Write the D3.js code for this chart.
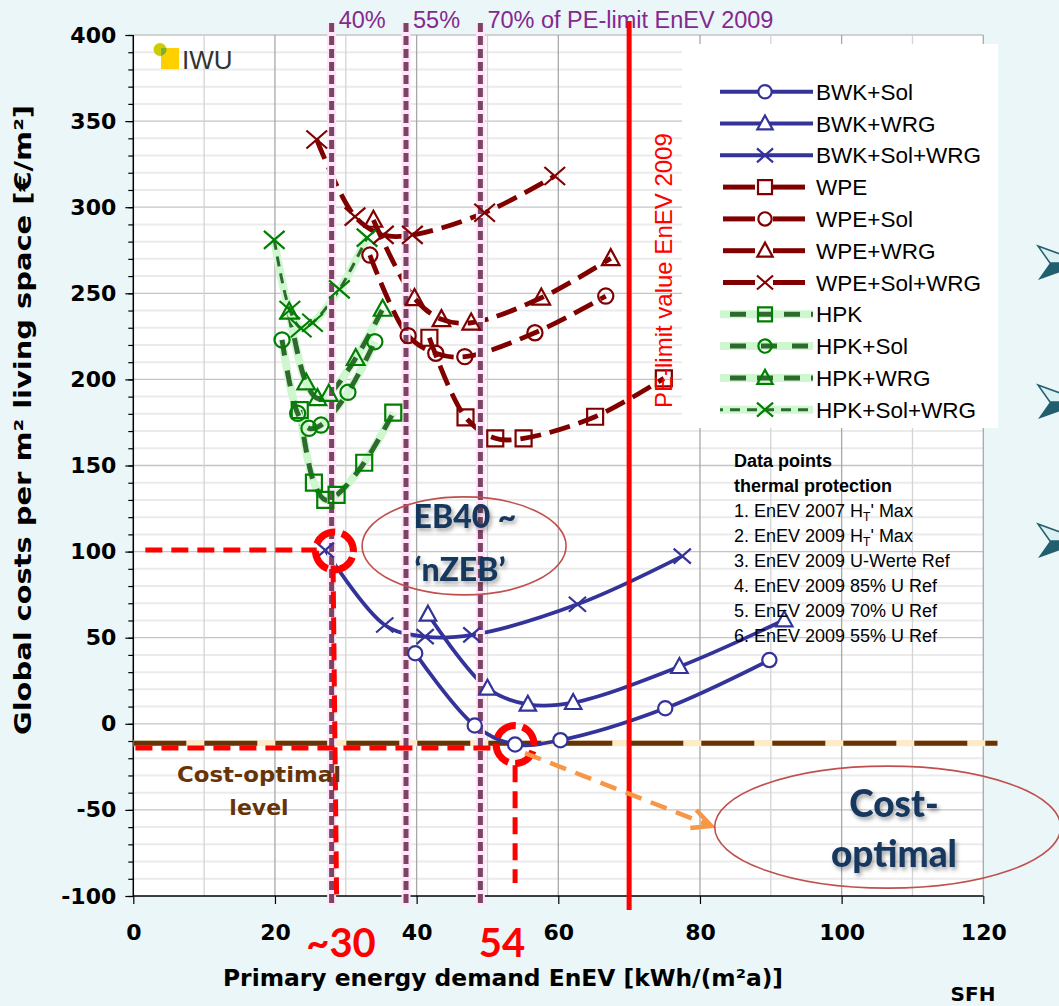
<!DOCTYPE html>
<html><head><meta charset="utf-8">
<script src="https://cdn.jsdelivr.net/npm/d3@7/dist/d3.min.js"></script>
<style>
html,body{margin:0;padding:0;background:#EAF6F8;}
svg{display:block}
</style></head><body>
<svg id="c" width="1059" height="1006"></svg>
<script>
// ---------------- DATA ----------------
const xTicks = [0, 20, 40, 60, 80, 100, 120];
const yTicks = [-100, -50, 0, 50, 100, 150, 200, 250, 300, 350, 400];

const seriesNames = ["BWK+Sol", "BWK+WRG", "BWK+Sol+WRG", "WPE", "WPE+Sol", "WPE+WRG", "WPE+Sol+WRG",
                     "HPK", "HPK+Sol", "HPK+WRG", "HPK+Sol+WRG"];

const BWK_SOL_X = [39.8, 48.2, 53.9, 60.3, 75.1, 89.8];
const BWK_SOL_Y = [41, -1, -12, -9.5, 9, 37];
const BWK_WRG_X = [41.6, 50.0, 55.7, 62.1, 77.1, 91.9];
const BWK_WRG_Y = [63.6, 20.6, 11.3, 12.3, 33.2, 60.3];
const BWK_SOL_WRG_X = [27.1, 35.5, 41.2, 47.8, 62.7, 77.5];
const BWK_SOL_WRG_Y = [100.9, 57.4, 50.6, 51.6, 69.4, 97.4];

const WPE_X = [41.8, 46.9, 51.1, 55.1, 65.2, 74.9];
const WPE_Y = [224.2, 178, 165.8, 165.8, 178.3, 200.6];
const WPE_SOL_X = [33.4, 38.8, 42.7, 46.8, 56.7, 66.7];
const WPE_SOL_Y = [272.2, 225.4, 215.2, 213.2, 227.1, 248.4];
const WPE_WRG_X = [33.9, 39.7, 43.5, 47.7, 57.6, 67.4];
const WPE_WRG_Y = [292.6, 247.1, 234.9, 232.9, 247.4, 270.3];
const WPE_SOL_WRG_X = [25.9, 31.3, 35.3, 39.4, 49.6, 59.5];
const WPE_SOL_WRG_Y = [339.3, 294.5, 283.9, 283.9, 296.8, 318.1];

const HPK_X = [23.5, 25.5, 27.1, 28.7, 32.6, 36.7];
const HPK_Y = [182.2, 140, 130, 132.9, 151.6, 180.7];
const HPK_SOL_X = [21.0, 23.2, 24.8, 26.5, 30.3, 34.1];
const HPK_SOL_Y = [222.9, 180.3, 171.6, 173.5, 192.5, 221.9];
const HPK_WRG_X = [22.0, 24.4, 26.0, 27.6, 31.4, 35.2];
const HPK_WRG_Y = [239.3, 198.1, 189, 191.5, 212.3, 240.9];
const HPK_SOL_WRG_X = [19.9, 22.1, 23.7, 25.3, 29.1, 33.0];
const HPK_SOL_WRG_Y = [281, 240.3, 229.7, 232.9, 252.3, 282.3];

const COST_OPT_X = [0, 122];
const COST_OPT_Y = [-11.3, -11.3];

const PE_LIMIT = 70;
const PE_SHARES = [0.4, 0.55, 0.7];
const PE_SHARE_LABELS = ["40%", "55%", "70% of PE-limit EnEV 2009"];

// annotation anchors (data coordinates)
const MARK_POINTS_X = [28.0, 53.9];
const MARK_POINTS_Y = [101, -12];
const MARK_LABELS = ["~30", "54"];

const NOTES_TITLE = ["Data points", "thermal protection"];
const NOTES = [
  ["1. EnEV 2007 H", "T", "' Max"],
  ["2. EnEV 2009 H", "T", "' Max"],
  ["3. EnEV 2009 U-Werte Ref"],
  ["4. EnEV 2009 85% U Ref"],
  ["5. EnEV 2009 70% U Ref"],
  ["6. EnEV 2009 55% U Ref"]
];

// ---------------- SETUP ----------------
const svg = d3.select("#c");
const W = 1059, H = 1006;
const x = d3.scaleLinear().domain([0, 120]).range([133.3, 983.3]);
const y = d3.scaleLinear().domain([-100, 400]).range([896, 35]);

const defs = svg.append("defs");
const sh = defs.append("filter").attr("id", "shadow").attr("x", "-20%").attr("y", "-20%").attr("width", "140%").attr("height", "160%");
sh.append("feDropShadow").attr("dx", 2).attr("dy", 3).attr("stdDeviation", 2).attr("flood-color", "#000").attr("flood-opacity", 0.35);

svg.append("rect").attr("width", W).attr("height", H).attr("fill", "#EAF6F8");

// plot area
svg.append("rect").attr("x", x(0)).attr("y", y(400)).attr("width", x(120) - x(0)).attr("height", y(-100) - y(400)).attr("fill", "#fff");

const VERD = "'DejaVu Sans', Verdana, sans-serif";
const ARIAL = "'Liberation Sans', Arial, sans-serif";
const CAL = "Lato, 'Open Sans', sans-serif";

// grid
const grid = svg.append("g");
const yMinor = d3.range(-100, 401, 10);
grid.selectAll(".hm").data(yMinor.filter(v => v % 50 !== 0)).join("line")
  .attr("x1", x(0)).attr("x2", x(120)).attr("y1", d => y(d)).attr("y2", d => y(d))
  .attr("stroke", "#EBEBEB").attr("stroke-width", 2);
grid.selectAll(".hM").data(yTicks.filter(v => v !== -100)).join("line")
  .attr("x1", x(0)).attr("x2", x(120)).attr("y1", d => y(d)).attr("y2", d => y(d))
  .attr("stroke", "#C4C4C4").attr("stroke-width", 1.3);
grid.selectAll(".vm").data(d3.range(10, 121, 10)).join("line")
  .attr("x1", d => x(d)).attr("x2", d => x(d)).attr("y1", y(400)).attr("y2", y(-100))
  .attr("stroke", d => d % 20 === 0 ? "#A8A8A8" : "#D4D4D4").attr("stroke-width", 1.3);

// axes
const yAxisMinor = d3.axisLeft(y).tickValues(yMinor).tickSize(5).tickFormat("");
const gy1 = svg.append("g").attr("transform", `translate(${x(0)},0)`).call(yAxisMinor);
gy1.select(".domain").remove();
gy1.selectAll("line").attr("stroke", "#000").attr("stroke-width", 1.2);
const yAxis = d3.axisLeft(y).tickValues(yTicks).tickSize(8).tickPadding(9).tickFormat(d => String(d));
const gy = svg.append("g").attr("transform", `translate(${x(0)},0)`).call(yAxis);
gy.select(".domain").attr("stroke", "#000").attr("stroke-width", 1.5).attr("d", `M0,${y(400)}V${y(-100)}`);
gy.selectAll("line").attr("stroke", "#000").attr("stroke-width", 1.2);
gy.selectAll("text").attr("font-family", VERD).attr("font-weight", "bold").attr("font-size", 22).attr("fill", "#000");

const xAxis = d3.axisBottom(x).tickValues(xTicks).tickSize(8).tickPadding(20).tickFormat(d => String(d));
const gx = svg.append("g").attr("transform", `translate(0,${y(-100)})`).call(xAxis);
gx.select(".domain").attr("stroke", "#000").attr("stroke-width", 1.5).attr("d", `M${x(0)},0H${x(120)}`);
gx.selectAll("line").attr("stroke", "#000").attr("stroke-width", 1.2);
gx.selectAll("text").attr("font-family", VERD).attr("font-weight", "bold").attr("font-size", 22).attr("fill", "#000");

// axis titles
svg.append("text").attr("x", 503).attr("y", 986).attr("text-anchor", "middle")
  .attr("font-family", VERD).attr("font-weight", "bold").attr("font-size", 23)
  .attr("textLength", 560).attr("lengthAdjust", "spacingAndGlyphs")
  .text("Primary energy demand EnEV [kWh/(m²a)]");
svg.append("text").attr("transform", `translate(31,420) rotate(-90)`).attr("text-anchor", "middle")
  .attr("font-family", VERD).attr("font-weight", "bold").attr("font-size", 23)
  .attr("textLength", 630).attr("lengthAdjust", "spacingAndGlyphs")
  .text("Global costs per m² living space [€/m²]");
svg.append("text").attr("x", 973).attr("y", 1001).attr("text-anchor", "middle")
  .attr("font-family", VERD).attr("font-weight", "bold").attr("font-size", 20).text("SFH");

// IWU logo
const logo = svg.append("g");
logo.append("rect").attr("x", 161).attr("y", 48).attr("width", 18).attr("height", 21).attr("fill", "#FFD000");
logo.append("circle").attr("cx", 160).attr("cy", 49.5).attr("r", 6.5).attr("fill", "#CCCC00");
logo.append("path").attr("d", "M161,48 h5.3 a6.5,6.5 0 0,1 -5.3,7.9 Z").attr("fill", "#7DB12A");
logo.append("text").attr("x", 182).attr("y", 69).attr("font-family", "'Liberation Sans Narrow', 'Arial Narrow', sans-serif")
  .attr("font-size", 26).attr("fill", "#333").text("IWU");

// cost-optimal level line
const lineGen = d3.line().x(d => x(d[0])).y(d => y(d[1]));
const costPts = COST_OPT_X.map((v, i) => [v, COST_OPT_Y[i]]);
svg.append("path").attr("d", lineGen(costPts)).attr("stroke", "#FFEBC6").attr("stroke-width", 6).attr("fill", "none");
svg.append("path").attr("d", lineGen(costPts)).attr("stroke", "#673409").attr("stroke-width", 5).attr("fill", "none")
  .attr("stroke-dasharray", "53,18");

// ---------------- SERIES ----------------
const seriesX = [BWK_SOL_X, BWK_WRG_X, BWK_SOL_WRG_X, WPE_X, WPE_SOL_X, WPE_WRG_X, WPE_SOL_WRG_X, HPK_X, HPK_SOL_X, HPK_WRG_X, HPK_SOL_WRG_X];
const seriesY = [BWK_SOL_Y, BWK_WRG_Y, BWK_SOL_WRG_Y, WPE_Y, WPE_SOL_Y, WPE_WRG_Y, WPE_SOL_WRG_Y, HPK_Y, HPK_SOL_Y, HPK_WRG_Y, HPK_SOL_WRG_Y];
const shapes = ["circle", "triangle", "cross", "square", "circle", "triangle", "cross", "square", "circle", "triangle", "cross"];
const fam = n => n.split("+")[0];
const series = seriesNames.map((n, i) => ({
  name: n, fam: fam(n), shape: shapes[i],
  pts: seriesX[i].map((v, j) => [v, seriesY[i][j]])
}));
const style = {
  BWK: { color: "#333399", width: 3.8, dash: null, mcolor: "#333399", mfill: "#fff" },
  WPE: { color: "#800000", width: 4.8, dash: "21,9", mcolor: "#800000", mfill: "none" },
  HPK: { color: "#2E6A2E", width: 5, dash: "16,11", mcolor: "#008000", mfill: "none" }
};
const curve = d3.line().x(d => x(d[0])).y(d => y(d[1])).curve(d3.curveCatmullRom.alpha(0.5));

function markerPath(shape, s) {
  const h = s / 2;
  if (shape === "square") return `M${-h},${-h}h${s}v${s}h${-s}Z`;
  if (shape === "triangle") return `M0,${-h * 1.15}L${h * 1.1},${h * 0.85}L${-h * 1.1},${h * 0.85}Z`;
  if (shape === "cross") return `M${-h * 1.15},${-h}L${h * 1.15},${h}M${h * 1.15},${-h}L${-h * 1.15},${h}`;
  return d3.arc()({ innerRadius: 0, outerRadius: h * 0.95, startAngle: 0, endAngle: 2 * Math.PI });
}
function drawMarker(g, shape, cx, cy, st, s) {
  g.append("path").attr("transform", `translate(${cx},${cy})`).attr("d", markerPath(shape, s))
    .attr("fill", shape === "cross" ? "none" : st.mfill).attr("stroke", st.mcolor).attr("stroke-width", 2.2);
}
function hpkDash(name) { return name === "HPK+Sol+WRG" ? "10,7" : (name === "HPK+Sol" ? "16,15" : "16,11"); }

const linesG = svg.append("g");
const drawOrder = ["HPK", "WPE", "BWK"];
drawOrder.forEach(f => {
  series.filter(s => s.fam === f).forEach(s => {
    const st = style[f];
    if (f === "HPK") {
      linesG.append("path").attr("d", curve(s.pts)).attr("fill", "none").attr("stroke", "#CFF7CF").attr("stroke-width", 8);
      linesG.append("path").attr("d", curve(s.pts)).attr("fill", "none").attr("stroke", st.color)
        .attr("stroke-width", s.name === "HPK+Sol+WRG" ? 3 : st.width).attr("stroke-dasharray", hpkDash(s.name));
    } else {
      linesG.append("path").attr("d", curve(s.pts)).attr("fill", "none").attr("stroke", st.color)
        .attr("stroke-width", st.width).attr("stroke-dasharray", st.dash);
    }
  });
});

// share lines (40/55/70 % of PE limit)
const shareG = svg.append("g");
PE_SHARES.forEach((p, i) => {
  const xv = x(PE_LIMIT * p);
  shareG.append("line").attr("x1", xv).attr("x2", xv).attr("y1", y(400) - 12).attr("y2", y(-100) + 9)
    .attr("stroke", "#FFE4FA").attr("stroke-width", 9);
  shareG.append("line").attr("x1", xv).attr("x2", xv).attr("y1", y(400) - 12).attr("y2", y(-100) + 9)
    .attr("stroke", "#7A4462").attr("stroke-width", 5).attr("stroke-dasharray", "9,4");
  shareG.append("text").attr("x", xv + 7).attr("y", 28).attr("font-family", ARIAL).attr("font-size", 23.5)
    .attr("fill", "#85288F").text(PE_SHARE_LABELS[i]);
});

// markers
const mG = svg.append("g");
drawOrder.forEach(f => {
  series.filter(s => s.fam === f).forEach(s => {
    const sz = f === "BWK" ? 15 : (s.shape === "cross" ? 18 : 16);
    s.pts.forEach(p => drawMarker(mG, s.shape, x(p[0]), y(p[1]), style[f], sz));
  });
});

// PE limit line
svg.append("line").attr("x1", x(PE_LIMIT)).attr("x2", x(PE_LIMIT)).attr("y1", 21).attr("y2", 910)
  .attr("stroke", "#FF0000").attr("stroke-width", 5);
svg.append("text").attr("transform", `translate(${x(PE_LIMIT) + 43},408) rotate(-90)`)
  .attr("font-family", ARIAL).attr("font-size", 24).attr("fill", "#FF0000").text("PE-limit value EnEV 2009");

// ---------------- ANNOTATIONS ----------------
const ann = svg.append("g");
const red = "#FF0000";
ann.append("line").attr("x1", x(1.7)).attr("x2", x(25.9)).attr("y1", y(MARK_POINTS_Y[0])).attr("y2", y(MARK_POINTS_Y[0]))
  .attr("stroke", red).attr("stroke-width", 5).attr("stroke-dasharray", "17,9");
ann.append("line").attr("x1", x(MARK_POINTS_X[0] + 0.2)).attr("x2", x(MARK_POINTS_X[0] + 0.7)).attr("y1", y(92)).attr("y2", y(-100.5))
  .attr("stroke", red).attr("stroke-width", 5).attr("stroke-dasharray", "17,9");
ann.append("line").attr("x1", x(0.3)).attr("x2", x(51.4)).attr("y1", y(-14)).attr("y2", y(-14))
  .attr("stroke", red).attr("stroke-width", 5).attr("stroke-dasharray", "17,9");
ann.append("line").attr("x1", x(MARK_POINTS_X[1])).attr("x2", x(MARK_POINTS_X[1])).attr("y1", y(-24)).attr("y2", y(-92.5))
  .attr("stroke", red).attr("stroke-width", 5).attr("stroke-dasharray", "17,9");
MARK_POINTS_X.forEach((v, i) => {
  ann.append("circle").attr("cx", x(v) + (i === 0 ? 3 : 0)).attr("cy", y(MARK_POINTS_Y[i])).attr("r", 19)
    .attr("fill", "none").attr("stroke", red).attr("stroke-width", 7).attr("stroke-dasharray", "23,7")
    .attr("transform", `rotate(20,${x(v)},${y(MARK_POINTS_Y[i])})`);
});
svg.append("text").attr("x", 341).attr("y", 957).attr("text-anchor", "middle").attr("font-family", CAL)
  .attr("font-weight", "bold").attr("font-size", 40).attr("fill", red).text(MARK_LABELS[0]);
svg.append("text").attr("x", 502).attr("y", 957).attr("text-anchor", "middle").attr("font-family", CAL)
  .attr("font-weight", "bold").attr("font-size", 40).attr("fill", red).text(MARK_LABELS[1]);

// cost-optimal level label (drawn over guide lines)
svg.append("text").attr("x", 259).attr("y", 782).attr("text-anchor", "middle").attr("font-family", VERD)
  .attr("font-weight", "bold").attr("font-size", 22).attr("fill", "#673409")
  .attr("textLength", 164).attr("lengthAdjust", "spacingAndGlyphs").text("Cost-optimal");
svg.append("text").attr("x", 259).attr("y", 815).attr("text-anchor", "middle").attr("font-family", VERD)
  .attr("font-weight", "bold").attr("font-size", 22).attr("fill", "#673409").text("level");

// orange arrow
const orange = "#F79646";
const a0 = [x(55.3), y(-17)], a1 = [x(81.6), y(-59.3)];
ann.append("line").attr("x1", a0[0]).attr("y1", a0[1]).attr("x2", a1[0] - 4).attr("y2", a1[1] - 1.5)
  .attr("stroke", orange).attr("stroke-width", 4.5).attr("stroke-dasharray", "17,10");
ann.append("path").attr("d", `M${a1[0] - 15},${a1[1] - 16}L${a1[0]},${a1[1]}L${a1[0] - 21},${a1[1] + 2}`)
  .attr("fill", "none").attr("stroke", orange).attr("stroke-width", 4.5);

// ellipses
ann.append("ellipse").attr("cx", x(46.7)).attr("cy", y(103.3)).attr("rx", 102).attr("ry", 49)
  .attr("fill", "none").attr("stroke", "#C0504D").attr("stroke-width", 1.6);
ann.append("ellipse").attr("cx", x(106.5)).attr("cy", y(-60)).attr("rx", 173).attr("ry", 61)
  .attr("fill", "none").attr("stroke", "#C0504D").attr("stroke-width", 1.6);

const callout = [["EB40 ~", 465, 528, 32], ["\u2018nZEB\u2019", 460, 581, 32], ["Cost-", 894, 817, 37], ["optimal", 894, 867, 37]];
callout.forEach(c => {
  svg.append("text").attr("x", c[1]).attr("y", c[2]).attr("text-anchor", "middle").attr("font-family", CAL)
    .attr("font-weight", "900").attr("font-size", c[3]).attr("fill", "#17375E").attr("filter", "url(#shadow)").text(c[0]);
});

// ---------------- LEGEND ----------------
const leg = svg.append("g");
leg.append("rect").attr("x", 682).attr("y", 44).attr("width", 316).attr("height", 384).attr("fill", "#fff");
series.forEach((s, i) => {
  const cy = 91.7 + i * 31.8;
  const st = style[s.fam];
  if (s.fam === "BWK") {
    leg.append("line").attr("x1", 720).attr("x2", 813).attr("y1", cy).attr("y2", cy).attr("stroke", st.color).attr("stroke-width", 4);
  } else if (s.fam === "WPE") {
    [[723, 755], [773, 805]].forEach(sg => leg.append("line").attr("x1", sg[0]).attr("x2", sg[1]).attr("y1", cy).attr("y2", cy)
      .attr("stroke", st.color).attr("stroke-width", 5));
  } else {
    leg.append("line").attr("x1", 720).attr("x2", 813).attr("y1", cy).attr("y2", cy).attr("stroke", "#CFF7CF").attr("stroke-width", 8);
    leg.append("line").attr("x1", 720).attr("x2", 813).attr("y1", cy).attr("y2", cy).attr("stroke", st.color)
      .attr("stroke-width", s.name === "HPK+Sol+WRG" ? 3 : 5).attr("stroke-dasharray", hpkDash(s.name))
      .attr("stroke-dashoffset", -10);
  }
  drawMarker(leg, s.shape, 765, cy, st, 14);
  leg.append("text").attr("x", 816).attr("y", cy + 8).attr("font-family", ARIAL).attr("font-size", 22.5).attr("fill", "#000").text(s.name);
});

// data-point notes
NOTES_TITLE.forEach((t, i) => {
  svg.append("text").attr("x", 734).attr("y", 467 + i * 25).attr("font-family", ARIAL).attr("font-weight", "bold")
    .attr("font-size", 18).text(t);
});
NOTES.forEach((n, i) => {
  const t = svg.append("text").attr("x", 734).attr("y", 517 + i * 24.9).attr("font-family", ARIAL).attr("font-size", 18);
  t.append("tspan").text(n[0]);
  if (n.length > 1) {
    t.append("tspan").attr("font-size", 12).attr("dy", 4).text(n[1]);
    t.append("tspan").attr("dy", -4).text(n[2]);
  }
});

// slide bullets at right edge
[263, 402, 541].forEach(cy => {
  svg.append("path").attr("d", `M1038,${cy - 17}L1085,${cy}L1050,${cy}Z`).attr("fill", "#DCEFF3").attr("stroke", "#215E6E").attr("stroke-width", 1.5);
  svg.append("path").attr("d", `M1050,${cy}L1085,${cy}L1038,${cy + 17}Z`).attr("fill", "#215E6E");
});
</script>
</body></html>
